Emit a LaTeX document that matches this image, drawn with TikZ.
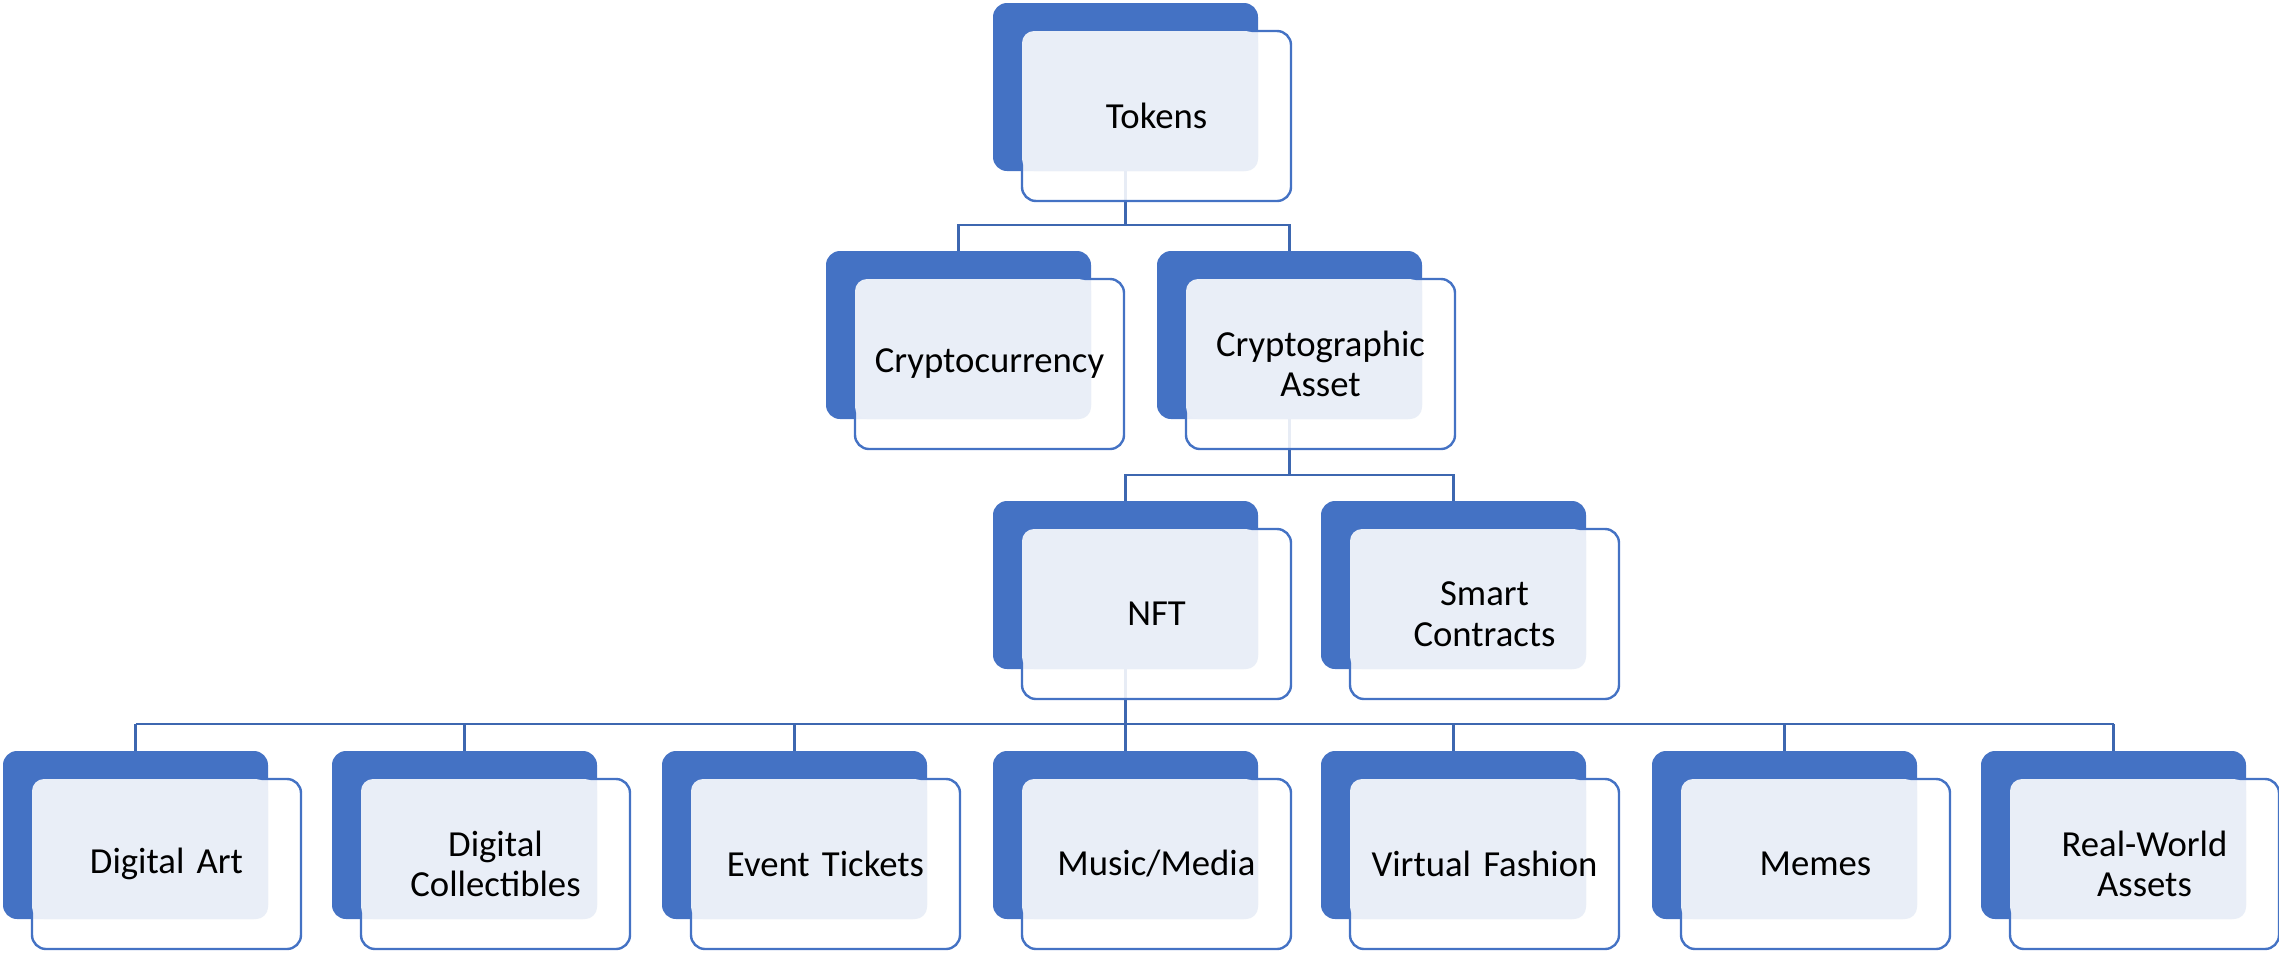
\documentclass[tikz,border=0pt]{standalone}
\usepackage{fontspec}
\setmainfont{Carlito}
\usetikzlibrary{backgrounds}
\definecolor{accent}{HTML}{4472C4}
\definecolor{paleblue}{HTML}{E9EEF7}
\tikzset{
  darkbox/.style={anchor=north west, fill=accent, draw=none, rounded corners=14pt,
    minimum width=265pt, minimum height=168pt, inner sep=0pt, outer sep=0pt},
  outbox/.style={anchor=north west, fill=white, fill opacity=0.88, draw=accent, draw opacity=1,
    line width=2.4pt, rounded corners=14pt,
    minimum width=269pt, minimum height=170pt, inner sep=0pt, outer sep=0pt},
  lightbox/.style={anchor=north west, fill=paleblue, draw=none, rounded corners=12pt,
    minimum width=236pt, minimum height=140pt, inner sep=0pt, outer sep=0pt},
  boxtext/.style={text width=250pt, align=center, inner sep=0pt,
    font=\fontsize{36.7}{40.7}\selectfont},
  link/.style={draw=accent!90!black, line width=2.2pt}
}
% one chart entry: name, left edge, top edge, caption
\newcommand\orgbox[4]{%
  \node[darkbox] (#1-d) at (#2,#3) {};
  \node[outbox] (#1) at (#2+29,#3+28) {};
  \node[lightbox] (#1-l) at (#2+29,#3+28) {};
  \node[boxtext] (#1-t) at (#1.center) {#4};
}
\begin{document}
\begin{tikzpicture}[x=1pt,y=-1pt]
\useasboundingbox (0,0) rectangle (2279,954);

\orgbox{tok}{993}{3}{Tokens}

\orgbox{cc}{826}{251}{Cryptocurrency}
\orgbox{ca}{1157}{251}{Cryptographic\\Asset}

\orgbox{nft}{993}{501}{NFT}
\orgbox{sc}{1321}{501}{Smart\\Contracts}

\orgbox{da}{3}{751}{Digital Art}
\orgbox{dc}{332}{751}{Digital\\Collectibles}
\orgbox{et}{662}{751}{Event Tickets}
\orgbox{mm}{993}{751}{Music/Media}
\orgbox{vf}{1321}{751}{Virtual Fashion}
\orgbox{me}{1652}{751}{Memes}
\orgbox{rw}{1981}{751}{Real-World\\Assets}

\coordinate (bus1) at (0,225);
\coordinate (bus2) at (0,475);
\coordinate (bus3) at (0,724);

\begin{pgfonlayer}{background}
  % level 1
  \draw[link] (tok-d.south) -- (tok-d.south |- bus1);
  \draw[link] (cc-d.north) -- (cc-d.north |- bus1) -- (ca-d.north |- bus1) -- (ca-d.north);
  % level 2
  \draw[link] (ca-d.south) -- (ca-d.south |- bus2);
  \draw[link] (nft-d.north) -- (nft-d.north |- bus2) -- (sc-d.north |- bus2) -- (sc-d.north);
  % level 3
  \draw[link] (nft-d.south) -- (nft-d.south |- bus3);
  \draw[link] (da-d.north |- bus3) -- (rw-d.north |- bus3);
  \foreach \n in {da,dc,et,mm,vf,me,rw}
    \draw[link] (\n-d.north |- bus3) -- (\n-d.north);
\end{pgfonlayer}
\end{tikzpicture}
\end{document}
